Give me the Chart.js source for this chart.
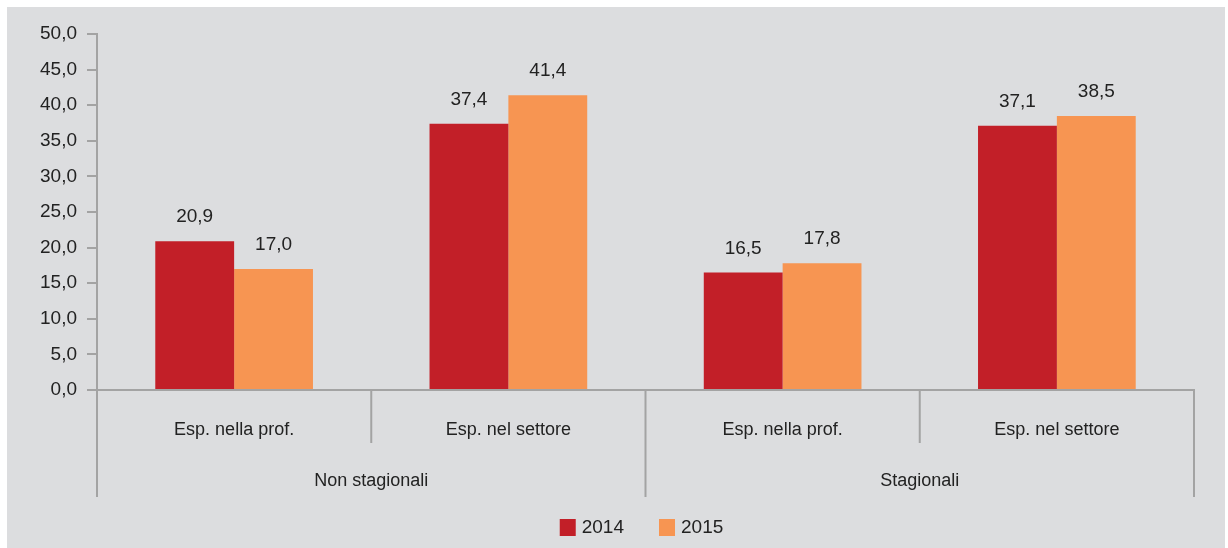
<!DOCTYPE html>
<html>
<head>
<meta charset="utf-8">
<script src="https://cdn.jsdelivr.net/npm/chart.js@4"></script>
<style>
  body { margin: 0; background: #fff; }
  #wrap { position: absolute; left: 7px; top: 7px; width: 1218px; height: 541px; background: #dcdddf; }
</style>
</head>
<body>
<div id="wrap"><canvas id="myChart" width="1218" height="541"></canvas></div>
<script>
const categories = ['Esp. nella prof.', 'Esp. nel settore', 'Esp. nella prof.', 'Esp. nel settore'];
const groups = ['Non stagionali', 'Stagionali'];
const values2014 = [20.9, 37.4, 16.5, 37.1];
const values2015 = [17.0, 41.4, 17.8, 38.5];
const yTicks = [0, 5, 10, 15, 20, 25, 30, 35, 40, 45, 50];

const FONT = "'Liberation Sans', Arial, sans-serif";
const TEXT = '#222';
const AXIS = '#a3a3a3';
const fmt = v => v.toFixed(1).replace('.', ',');

const ctx = document.getElementById('myChart');

// data labels, two-level x axis and legend
const extras = {
  id: 'extras',
  afterDatasetsDraw(chart) {
    const c = chart.ctx;
    c.save();
    c.font = '19px ' + FONT;
    c.fillStyle = TEXT;
    c.textAlign = 'center';
    c.textBaseline = 'alphabetic';
    chart.data.datasets.forEach((ds, i) => {
      chart.getDatasetMeta(i).data.forEach((bar, j) => {
        c.fillText(fmt(ds.data[j]), bar.x, bar.y - 19);
      });
    });
    c.restore();
  },
  afterDraw(chart) {
    const c = chart.ctx;
    const x = chart.scales.x;
    const bottom = chart.chartArea.bottom;
    const b = [x.left];
    for (let i = 0; i < categories.length - 1; i++) {
      b.push((x.getPixelForValue(i) + x.getPixelForValue(i + 1)) / 2);
    }
    b.push(x.right);

    c.save();
    c.strokeStyle = AXIS;
    c.lineWidth = 2;
    b.forEach((px, i) => {
      const len = i % 2 === 0 ? 107 : 53;
      c.beginPath();
      c.moveTo(px, bottom);
      c.lineTo(px, bottom + len);
      c.stroke();
    });

    c.fillStyle = TEXT;
    c.textAlign = 'center';
    c.textBaseline = 'middle';
    c.font = '18px ' + FONT;
    categories.forEach((lab, i) => {
      c.fillText(lab, x.getPixelForValue(i), bottom + 40);
    });
    groups.forEach((lab, g) => {
      c.fillText(lab, (b[g * 2] + b[g * 2 + 2]) / 2, bottom + 91);
    });

    // legend
    c.font = '19px ' + FONT;
    c.textAlign = 'left';
    const items = chart.data.datasets.map(ds => ({ label: ds.label, color: ds.backgroundColor, w: c.measureText(ds.label).width }));
    const box = 16, gapText = 6, gapItem = 35;
    let total = 0;
    items.forEach((it, i) => { total += box + gapText + it.w + (i ? gapItem : 0); });
    let lx = (x.left + x.right) / 2 - total / 2 - 4;
    const ly = 520;
    items.forEach(it => {
      c.fillStyle = it.color;
      c.fillRect(lx, ly - 8, box, 17);
      c.fillStyle = TEXT;
      c.fillText(it.label, lx + box + gapText, ly + 1);
      lx += box + gapText + it.w + gapItem;
    });
    c.restore();
  }
};

new Chart(ctx, {
  type: 'bar',
  data: {
    labels: categories,
    datasets: [
      { label: '2014', data: values2014, backgroundColor: '#c21f28' },
      { label: '2015', data: values2015, backgroundColor: '#f79552' }
    ]
  },
  options: {
    responsive: false,
    animation: false,
    layout: { padding: { top: 27, right: 31, left: 0, bottom: 0 } },
    categoryPercentage: 0.575,
    barPercentage: 1,
    plugins: {
      legend: { display: false },
      tooltip: { enabled: false }
    },
    scales: {
      x: {
        grid: { display: false },
        ticks: { display: false },
        border: { display: true, color: AXIS, width: 2 },
        afterFit: s => { s.height = 158; }
      },
      y: {
        min: 0,
        max: 50,
        afterBuildTicks: s => { s.ticks = yTicks.map(v => ({ value: v })); },
        afterFit: s => { s.width = 90; },
        grid: { drawOnChartArea: false, drawTicks: true, tickLength: 10, color: AXIS, lineWidth: 2 },
        border: { display: true, color: AXIS, width: 2 },
        ticks: {
          padding: 10,
          color: TEXT,
          font: { family: FONT, size: 19 },
          callback: v => fmt(v)
        }
      }
    }
  },
  plugins: [extras]
});
</script>
</body>
</html>
